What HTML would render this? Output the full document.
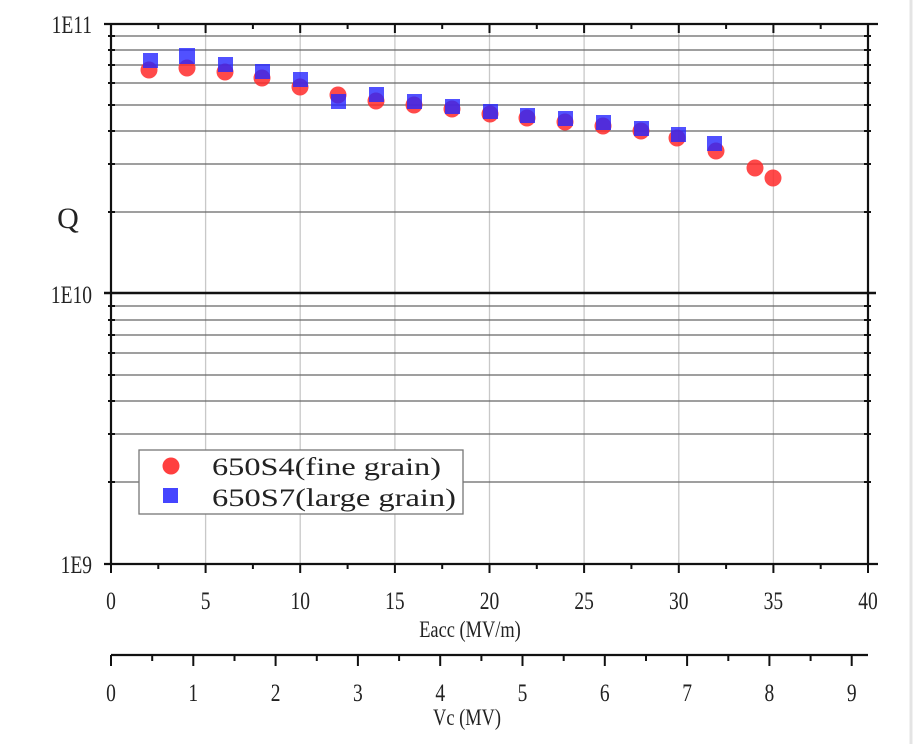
<!DOCTYPE html>
<html><head><meta charset="utf-8"><style>
html,body{margin:0;padding:0;background:#fff;}
svg{display:block;}
text{font-family:"Liberation Serif",serif;fill:#222;}
</style></head><body>
<svg width="914" height="744" viewBox="0 0 914 744" xmlns="http://www.w3.org/2000/svg">
<rect x="0" y="0" width="914" height="744" fill="#fff"/>
<line x1="911" y1="0" x2="911" y2="744" stroke="#e4e4e4" stroke-width="3"/>
<g stroke="#c8c8c8" stroke-width="1.3">
<line x1="205.6" y1="24" x2="205.6" y2="564"/><line x1="300.2" y1="24" x2="300.2" y2="564"/>
<line x1="394.9" y1="24" x2="394.9" y2="564"/><line x1="489.5" y1="24" x2="489.5" y2="564"/>
<line x1="584.1" y1="24" x2="584.1" y2="564"/><line x1="678.8" y1="24" x2="678.8" y2="564"/>
<line x1="773.4" y1="24" x2="773.4" y2="564"/>
</g>
<g stroke="#666" stroke-width="1.2">
<line x1="111" y1="36" x2="868" y2="36"/><line x1="111" y1="50" x2="868" y2="50"/>
<line x1="111" y1="65" x2="868" y2="65"/><line x1="111" y1="83" x2="868" y2="83"/>
<line x1="111" y1="105" x2="868" y2="105"/><line x1="111" y1="131" x2="868" y2="131"/>
<line x1="111" y1="164" x2="868" y2="164"/><line x1="111" y1="212" x2="868" y2="212"/>
<line x1="111" y1="306" x2="868" y2="306"/><line x1="111" y1="320" x2="868" y2="320"/>
<line x1="111" y1="335" x2="868" y2="335"/><line x1="111" y1="353" x2="868" y2="353"/>
<line x1="111" y1="375" x2="868" y2="375"/><line x1="111" y1="401" x2="868" y2="401"/>
<line x1="111" y1="434" x2="868" y2="434"/><line x1="111" y1="482" x2="868" y2="482"/>
</g>
<line x1="104" y1="293" x2="876" y2="293" stroke="#111" stroke-width="2.5"/>
<g stroke="#111" stroke-width="2.2" fill="none">
<line x1="104" y1="24" x2="878" y2="24"/>
<line x1="104" y1="564" x2="878" y2="564"/>
<line x1="111" y1="24" x2="111" y2="564"/>
<line x1="868" y1="24" x2="868" y2="564"/>
</g>
<g stroke="#111" stroke-width="2">
<path d="M108 36h7M108 50h7M108 65h7M108 83h7M108 105h7M108 131h7M108 164h7M108 212h7M108 306h7M108 320h7M108 335h7M108 353h7M108 375h7M108 401h7M108 434h7M108 482h7"/>
<path d="M864 36h7M864 50h7M864 65h7M864 83h7M864 105h7M864 131h7M864 164h7M864 212h7M864 306h7M864 320h7M864 335h7M864 353h7M864 375h7M864 401h7M864 434h7M864 482h7"/>
<path d="M205.6 24v9M300.2 24v9M394.9 24v9M489.5 24v9M584.1 24v9M678.8 24v9M773.4 24v9"/>
<path d="M158.3 24v5M252.9 24v5M347.6 24v5M442.2 24v5M536.8 24v5M631.4 24v5M726.1 24v5M820.7 24v5"/>
<path d="M111 564v9M205.6 564v9M300.2 564v9M394.9 564v9M489.5 564v9M584.1 564v9M678.8 564v9M773.4 564v9M868 564v9"/>
<path d="M158.3 564v5M252.9 564v5M347.6 564v5M442.2 564v5M536.8 564v5M631.4 564v5M726.1 564v5M820.7 564v5"/>
</g>
<g font-size="25" text-anchor="end">
<text transform="matrix(0.78,0,0,1,92,33)">1E11</text>
<text transform="matrix(0.78,0,0,1,92,303)">1E10</text>
<text transform="matrix(0.78,0,0,1,92,573)">1E9</text>
</g>
<text x="68" y="228" font-size="30" text-anchor="middle">Q</text>
<g font-size="25" text-anchor="middle">
<text transform="matrix(0.78,0,0,1,111,609)">0</text><text transform="matrix(0.78,0,0,1,205.6,609)">5</text><text transform="matrix(0.78,0,0,1,300.2,609)">10</text>
<text transform="matrix(0.78,0,0,1,394.9,609)">15</text><text transform="matrix(0.78,0,0,1,489.5,609)">20</text><text transform="matrix(0.78,0,0,1,584.1,609)">25</text>
<text transform="matrix(0.78,0,0,1,678.8,609)">30</text><text transform="matrix(0.78,0,0,1,773.4,609)">35</text><text transform="matrix(0.78,0,0,1,868,609)">40</text>
</g>
<text transform="matrix(0.8,0,0,1,470,637)" font-size="23" text-anchor="middle">Eacc (MV/m)</text>
<line x1="111" y1="655" x2="868" y2="655" stroke="#111" stroke-width="2.2"/>
<g stroke="#111" stroke-width="2">
<path d="M111 655v11M193.3 655v11M275.6 655v11M357.9 655v11M440.2 655v11M522.5 655v11M604.8 655v11M687.1 655v11M769.4 655v11M851.7 655v11"/>
<path d="M152.2 655v6M234.5 655v6M316.8 655v6M399.1 655v6M481.4 655v6M563.7 655v6M646 655v6M728.3 655v6M810.6 655v6"/>
</g>
<g font-size="25" text-anchor="middle">
<text transform="matrix(0.78,0,0,1,111,701)">0</text><text transform="matrix(0.78,0,0,1,193.3,701)">1</text><text transform="matrix(0.78,0,0,1,275.6,701)">2</text>
<text transform="matrix(0.78,0,0,1,357.9,701)">3</text><text transform="matrix(0.78,0,0,1,440.2,701)">4</text><text transform="matrix(0.78,0,0,1,522.5,701)">5</text>
<text transform="matrix(0.78,0,0,1,604.8,701)">6</text><text transform="matrix(0.78,0,0,1,687.1,701)">7</text><text transform="matrix(0.78,0,0,1,769.4,701)">8</text>
<text transform="matrix(0.78,0,0,1,851.7,701)">9</text>
</g>
<text transform="matrix(0.8,0,0,1,467,725)" font-size="23" text-anchor="middle">Vc (MV)</text>
<g fill="#ff2a2a" fill-opacity="0.85">
<circle cx="149" cy="70" r="8.5"/><circle cx="187" cy="68" r="8.5"/><circle cx="225" cy="72" r="8.5"/>
<circle cx="262" cy="78" r="8.5"/><circle cx="300" cy="87" r="8.5"/><circle cx="338" cy="95" r="8.5"/>
<circle cx="376" cy="101" r="8.5"/><circle cx="414" cy="105" r="8.5"/><circle cx="452" cy="109" r="8.5"/>
<circle cx="490" cy="114" r="8.5"/><circle cx="527" cy="118" r="8.5"/><circle cx="565" cy="122" r="8.5"/>
<circle cx="603" cy="126" r="8.5"/><circle cx="641" cy="131" r="8.5"/><circle cx="677" cy="138" r="8.5"/>
<circle cx="716" cy="151" r="8.5"/><circle cx="755" cy="168" r="8.5"/><circle cx="773" cy="178" r="8.5"/>
</g>
<g fill="#2525ff" fill-opacity="0.8">
<rect x="143" y="53" width="15" height="15"/><rect x="179" y="48" width="16" height="16"/>
<rect x="218" y="57" width="15" height="15"/><rect x="255" y="64" width="15" height="15"/>
<rect x="293" y="72" width="15" height="15"/><rect x="331" y="94" width="15" height="15"/>
<rect x="369" y="87" width="15" height="15"/><rect x="407" y="94" width="15" height="15"/>
<rect x="445" y="99" width="15" height="15"/><rect x="483" y="104" width="15" height="15"/>
<rect x="520" y="108" width="15" height="15"/><rect x="558" y="111" width="15" height="15"/>
<rect x="596" y="115" width="15" height="15"/><rect x="634" y="121" width="15" height="15"/>
<rect x="671" y="127" width="15" height="15"/><rect x="707" y="136" width="15" height="15"/>
</g>
<rect x="139" y="450" width="324" height="64" fill="#fff" stroke="#777" stroke-width="1.3"/>
<circle cx="171" cy="466" r="8.5" fill="#ff2a2a" fill-opacity="0.9"/>
<rect x="163" y="488" width="15" height="15" fill="#2525ff" fill-opacity="0.85"/>
<text x="212" y="475" font-size="25" textLength="229" lengthAdjust="spacingAndGlyphs">650S4(fine grain)</text>
<text x="212" y="506" font-size="25" textLength="244" lengthAdjust="spacingAndGlyphs">650S7(large grain)</text>
</svg>
</body></html>
